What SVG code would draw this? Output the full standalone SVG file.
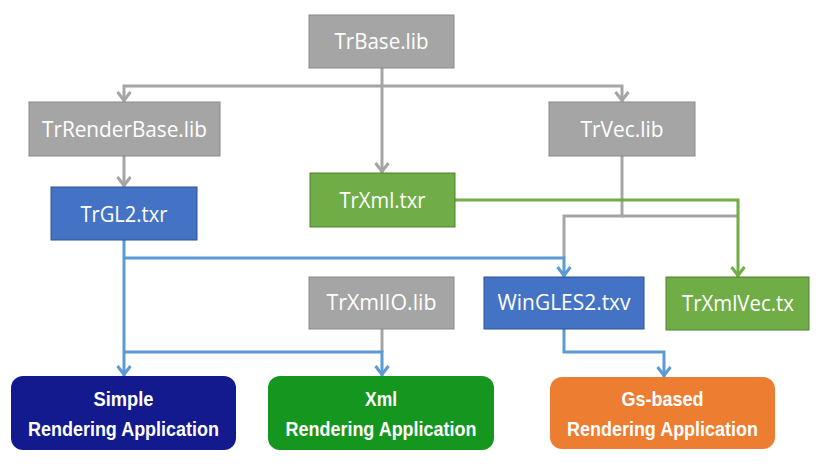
<svg xmlns="http://www.w3.org/2000/svg" width="820" height="476" viewBox="0 0 820 476">
<defs>
<style>
.gray{fill:#a5a5a5;stroke:#8a8a8a;stroke-width:1}
.blue{fill:#4472c4;stroke:#2f528f;stroke-width:1}
.green{fill:#70ad47;stroke:#507e32;stroke-width:1}
.lbl{font-family:"Open Sans","Noto Sans","DejaVu Sans",sans-serif;font-size:21px;fill:#ffffff;text-anchor:middle}
.app{font-family:"Liberation Sans","Noto Sans",sans-serif;font-weight:bold;font-size:21px;fill:#ffffff;text-anchor:middle}
.cg{fill:none;stroke:#a5a5a5;stroke-width:3}
.cb{fill:none;stroke:#5b9bd5;stroke-width:3}
.cgr{fill:none;stroke:#70ad47;stroke-width:3}
</style>
<marker id="ag" markerUnits="userSpaceOnUse" markerWidth="20" markerHeight="20" viewBox="-12 -10 20 20" refX="0" refY="0" orient="auto" overflow="visible"><path d="M-10,-6.5 L-1.5,0 L-10,6.5" fill="none" stroke="#a5a5a5" stroke-width="3"/></marker>
<marker id="ab" markerUnits="userSpaceOnUse" markerWidth="20" markerHeight="20" viewBox="-12 -10 20 20" refX="0" refY="0" orient="auto" overflow="visible"><path d="M-10,-6.5 L-1.5,0 L-10,6.5" fill="none" stroke="#5b9bd5" stroke-width="3"/></marker>
<marker id="agr" markerUnits="userSpaceOnUse" markerWidth="20" markerHeight="20" viewBox="-12 -10 20 20" refX="0" refY="0" orient="auto" overflow="visible"><path d="M-10,-6.5 L-1.5,0 L-10,6.5" fill="none" stroke="#70ad47" stroke-width="3"/></marker>
</defs>
<rect width="820" height="476" fill="#ffffff"/>
<g id="connectors">
<path class="cg" d="M382,68 V173" marker-end="url(#ag)"/>
<path class="cg" d="M382,86 H124 V102" marker-end="url(#ag)"/>
<path class="cg" d="M382,86 H622 V102" marker-end="url(#ag)"/>
<path class="cg" d="M124,156 V187" marker-end="url(#ag)"/>
<path class="cg" d="M622,156 V216 H564 V258"/>
<path class="cg" d="M622,216 H738"/>
<path class="cgr" d="M455,200 H738 V277" marker-end="url(#agr)"/>
<path class="cg" d="M382,329 V352"/>
<path class="cb" d="M124,240 V376" marker-end="url(#ab)"/>
<path class="cb" d="M124,258 H564 V277" marker-end="url(#ab)"/>
<path class="cb" d="M124,352 H382 V376" marker-end="url(#ab)"/>
<path class="cb" d="M564,329 V352 H664 V377" marker-end="url(#ab)"/>
</g>
<g id="trbase"><rect class="gray" x="309" y="15" width="145" height="53"/><text class="lbl" x="381.5" y="49" textLength="94" lengthAdjust="spacingAndGlyphs">TrBase.lib</text></g>
<g id="trrenderbase"><rect class="gray" x="29" y="102" width="191" height="54"/><text class="lbl" x="124.5" y="137" textLength="165" lengthAdjust="spacingAndGlyphs">TrRenderBase.lib</text></g>
<g id="trvec"><rect class="gray" x="549" y="102" width="146" height="54"/><text class="lbl" x="622" y="137" textLength="83" lengthAdjust="spacingAndGlyphs">TrVec.lib</text></g>
<g id="trgl2"><rect class="blue" x="51" y="187" width="146" height="53"/><text class="lbl" x="124" y="221.5" textLength="87" lengthAdjust="spacingAndGlyphs">TrGL2.txr</text></g>
<g id="trxml"><rect class="green" x="310" y="173" width="145" height="54"/><text class="lbl" x="382.5" y="207.5" textLength="86" lengthAdjust="spacingAndGlyphs">TrXml.txr</text></g>
<g id="trxmlio"><rect class="gray" x="309" y="277" width="145" height="52"/><text class="lbl" x="381.5" y="310" textLength="110" lengthAdjust="spacingAndGlyphs">TrXmlIO.lib</text></g>
<g id="wingles2"><rect class="blue" x="484" y="277" width="160" height="52"/><text class="lbl" x="564" y="310" textLength="133" lengthAdjust="spacingAndGlyphs">WinGLES2.txv</text></g>
<g id="trxmlvec"><rect class="green" x="666" y="277" width="143" height="53"/><text class="lbl" x="738" y="310.5" textLength="112" lengthAdjust="spacingAndGlyphs">TrXmlVec.tx</text></g>
<g id="simple"><rect x="11" y="376" width="225" height="74" rx="12" fill="#131a8d"/><text class="app" x="123.5" y="406" textLength="60" lengthAdjust="spacingAndGlyphs">Simple</text><text class="app" x="123.5" y="436" textLength="191" lengthAdjust="spacingAndGlyphs">Rendering Application</text></g>
<g id="xmlapp"><rect x="268" y="376" width="226" height="74" rx="12" fill="#15961e"/><text class="app" x="381" y="406" textLength="32" lengthAdjust="spacingAndGlyphs">Xml</text><text class="app" x="381" y="436" textLength="191" lengthAdjust="spacingAndGlyphs">Rendering Application</text></g>
<g id="gsapp"><rect x="550" y="377" width="225" height="72" rx="12" fill="#ed7d31"/><text class="app" x="662.5" y="406" textLength="82" lengthAdjust="spacingAndGlyphs">Gs-based</text><text class="app" x="662.5" y="436" textLength="191" lengthAdjust="spacingAndGlyphs">Rendering Application</text></g>
</svg>
